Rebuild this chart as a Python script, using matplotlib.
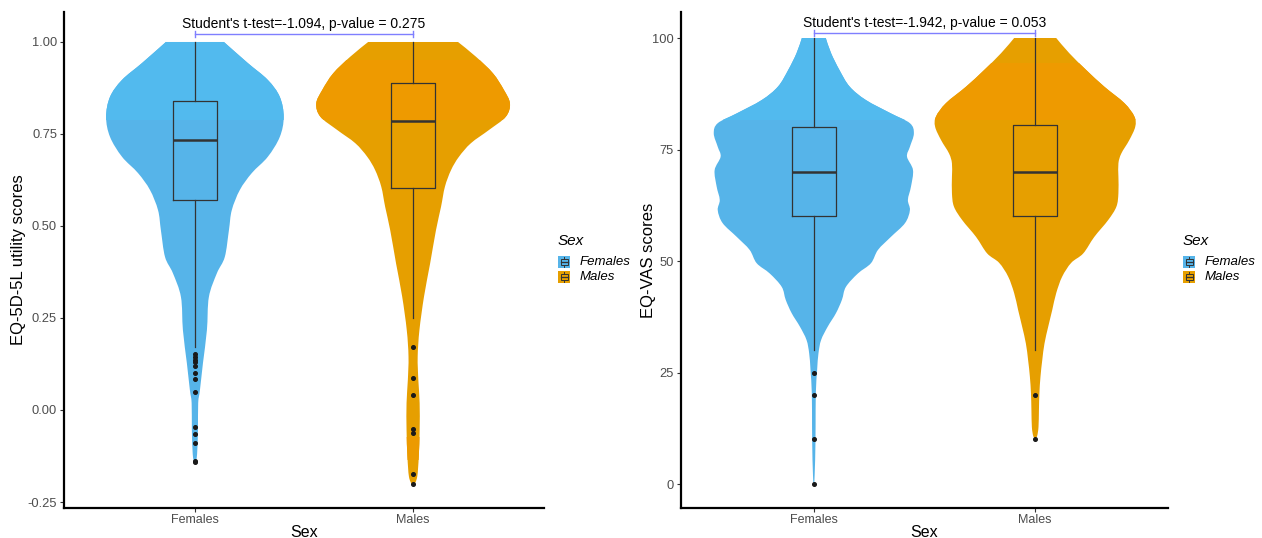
import matplotlib
matplotlib.use("Agg")
import matplotlib.pyplot as plt
from matplotlib.patches import Rectangle, PathPatch
from matplotlib.path import Path
from matplotlib.lines import Line2D
import numpy as np

plt.rcParams['font.family'] = ['Liberation Sans', 'DejaVu Sans']

# ---------------- data ----------------
groups = ["Females", "Males"]
colors = ["#56B4E9", "#E69F00"]
band_colors = ["#52BAEE", "#EE9A00"]

# Panel 1: EQ-5D-5L utility scores - violin outline (y value, half width in category units)
u_fem_y = [1.000, 0.943, 0.897, 0.851, 0.796, 0.742, 0.688, 0.644, 0.598, 0.543, 0.489,
           0.416, 0.372, 0.307, 0.217, 0.128, 0.054, 0.019, -0.054, -0.120, -0.144]
u_fem_w = [0.133, 0.242, 0.334, 0.389, 0.407, 0.389, 0.334, 0.261, 0.206, 0.169, 0.156,
           0.137, 0.101, 0.064, 0.055, 0.037, 0.023, 0.015, 0.014, 0.010, 0.003]
u_mal_y = [1.000, 0.960, 0.915, 0.870, 0.833, 0.797, 0.761, 0.725, 0.688, 0.652, 0.607,
           0.552, 0.489, 0.398, 0.308, 0.217, 0.145, 0.082, 0.019, -0.054, -0.127, -0.181, -0.204]
u_mal_w = [0.206, 0.288, 0.366, 0.416, 0.444, 0.425, 0.348, 0.265, 0.210, 0.174, 0.146,
           0.128, 0.105, 0.078, 0.050, 0.029, 0.021, 0.024, 0.030, 0.030, 0.026, 0.019, 0.005]
# boxplot stats: q1, median, q3, lower whisker, upper whisker
u_box = [dict(q1=0.570, med=0.734, q3=0.840, whislo=0.170, whishi=1.0),
         dict(q1=0.603, med=0.786, q3=0.889, whislo=0.251, whishi=1.0)]
u_out_fem = [0.152, 0.143, 0.136, 0.130, 0.120, 0.100, 0.083, 0.050, -0.045, -0.065, -0.089, -0.138, -0.142]
u_out_mal = [0.170, 0.087, 0.041, -0.051, -0.063, -0.175, -0.201]
u_ticks = [-0.25, 0.00, 0.25, 0.50, 0.75, 1.00]
u_test = "Student's t-test=-1.094, p-value = 0.275"

# Panel 2: EQ-VAS scores
v_fem_y = [100, 96.6, 92.8, 89.1, 86.1, 83.1, 80.9, 78.6, 75.6, 73.4, 70.4, 66.7, 63.7, 61.4,
           58.5, 55.4, 52.5, 49.5, 47.2, 44.2, 41.3, 38.3, 35.3, 32.3, 29.3, 25.6, 20.3, 12.8, 5.4, 0]
v_fem_w = [0.054, 0.078, 0.116, 0.162, 0.235, 0.348, 0.434, 0.452, 0.434, 0.421, 0.448, 0.439,
           0.425, 0.434, 0.412, 0.348, 0.290, 0.258, 0.199, 0.145, 0.127, 0.100, 0.063, 0.033,
           0.021, 0.015, 0.009, 0.008, 0.006, 0.002]
v_mal_y = [100, 96.6, 92.8, 89.1, 85.4, 82.4, 80.1, 77.1, 74.1, 71.9, 68.9, 65.2, 62.2, 59.2,
           55.4, 51.7, 49.6, 46.5, 42.8, 39.0, 35.3, 31.5, 27.8, 24.1, 20.3, 16.6, 12.8, 10.8, 10.2]
v_mal_w = [0.095, 0.154, 0.231, 0.312, 0.403, 0.448, 0.452, 0.425, 0.389, 0.376, 0.376, 0.376,
           0.367, 0.330, 0.267, 0.217, 0.163, 0.122, 0.095, 0.077, 0.059, 0.042, 0.032, 0.024,
           0.019, 0.017, 0.015, 0.009, 0.001]
v_box = [dict(q1=60, med=70, q3=80, whislo=30, whishi=100),
         dict(q1=60, med=70, q3=80.4, whislo=30, whishi=100)]
v_out_fem = [25, 20, 10, 0]
v_out_mal = [20, 10]
v_ticks = [0, 25, 50, 75, 100]
v_test = "Student's t-test=-1.942, p-value = 0.053"

W, H = 1262, 538
fig = plt.figure(figsize=(W / 100, H / 100), dpi=100)

def fx(px):
    return px / W

def fy(py):
    return 1 - py / H

TICK_GRAY = "#4D4D4D"


def smooth_side(pts):
    """Bezier (Catmull-Rom style) path pieces through the given outline vertices."""
    pts = np.asarray(pts, float)
    n = len(pts)
    verts, codes = [], []
    for i in range(n - 1):
        p0 = pts[i - 1] if i > 0 else pts[i]
        p1 = pts[i]
        p2 = pts[i + 1]
        p3 = pts[i + 2] if i + 2 < n else pts[i + 1]
        c1 = p1 + (p2 - p0) / 6.0
        c2 = p2 - (p3 - p1) / 6.0
        verts += [tuple(c1), tuple(c2), tuple(p2)]
        codes += [Path.CURVE4] * 3
    return verts, codes


def violin_path(center, yy, ww):
    right = [(center + w, y) for y, w in zip(yy, ww)]
    left = [(center - w, y) for y, w in zip(yy, ww)][::-1]
    verts = [right[0]]
    codes = [Path.MOVETO]
    v, c = smooth_side(right)
    verts += v; codes += c
    verts.append(left[0]); codes.append(Path.LINETO)
    v, c = smooth_side(left)
    verts += v; codes += c
    verts.append(right[0]); codes.append(Path.CLOSEPOLY)
    return Path(verts, codes)


def panel(ax, prof, boxes, outs, ticks, ticklabels, ylim, ylabel, ylabelpad, bands, test, brk_y, cap, txt_y):
    positions = [1, 2]
    for i, ((yy, ww), c) in enumerate(zip(prof, colors)):
        path = violin_path(positions[i], yy, ww)
        patch = PathPatch(path, facecolor=c, edgecolor='none', lw=0, zorder=1)
        ax.add_patch(patch)
        for (lo, hi, bc) in bands[i]:
            sp = ax.axhspan(lo, hi, color=bc, lw=0, zorder=1.5)
            sp.set_clip_path(patch)
    stats = []
    for b, o in zip(boxes, outs):
        d = dict(b)
        d['fliers'] = o
        stats.append(d)
    ax.bxp(stats, positions=positions, widths=0.2, showcaps=False, patch_artist=False,
           boxprops=dict(color="#333333", lw=0.9),
           whiskerprops=dict(color="#333333", lw=0.9),
           medianprops=dict(color="#333333", lw=1.8),
           flierprops=dict(marker='o', markersize=2.6, markerfacecolor="#1a1a1a",
                           markeredgecolor="#1a1a1a", linestyle='none'),
           zorder=3)
    ax.set_xlim(0.4, 2.6)
    ax.set_ylim(*ylim)
    ax.set_xticks(positions)
    ax.set_xticklabels(groups, fontsize=9, color=TICK_GRAY)
    ax.set_yticks(ticks)
    ax.set_yticklabels(ticklabels, fontsize=9.3, color=TICK_GRAY)
    ax.tick_params(length=3, width=0.8, color="#333333", pad=2)
    ax.tick_params(axis='x', pad=1.5)
    for s in ['top', 'right']:
        ax.spines[s].set_visible(False)
    for s in ['left', 'bottom']:
        ax.spines[s].set_linewidth(1.6)
        ax.spines[s].set_color("black")
    ax.set_xlabel("Sex", fontsize=11.5, labelpad=-1)
    ax.set_ylabel(ylabel, fontsize=12, labelpad=ylabelpad)
    # significance bracket
    bc = "#7F7FFF"
    ax.plot([1, 2], [brk_y, brk_y], color=bc, lw=1.0, zorder=4, clip_on=False)
    for p in positions:
        ax.plot([p, p], [brk_y - cap, brk_y + cap], color=bc, lw=1.0, zorder=4, clip_on=False)
    ax.text(1.5, txt_y, test, ha='center', va='bottom', fontsize=10, color="black")


def legend(x0):
    fig.text(fx(x0), fy(241), "Sex", fontsize=11, style='italic', va='center', ha='left', color="black")
    for j, (g, c) in enumerate(zip(groups, colors)):
        ky = 256 + j * 14.5
        fig.add_artist(Rectangle((fx(x0), fy(ky + 12)), 12 / W, 12 / H, transform=fig.transFigure,
                                 facecolor=c, edgecolor='none'))
        fig.add_artist(Rectangle((fx(x0 + 2.5), fy(ky + 9)), 7 / W, 6 / H, transform=fig.transFigure,
                                 facecolor='none', edgecolor="#333333", lw=0.7))
        fig.add_artist(Line2D([fx(x0 + 2.5), fx(x0 + 9.5)], [fy(ky + 6), fy(ky + 6)],
                              transform=fig.transFigure, color="#333333", lw=0.9))
        fig.add_artist(Line2D([fx(x0 + 6), fx(x0 + 6)], [fy(ky + 1), fy(ky + 3)],
                              transform=fig.transFigure, color="#333333", lw=0.7))
        fig.add_artist(Line2D([fx(x0 + 6), fx(x0 + 6)], [fy(ky + 9), fy(ky + 11)],
                              transform=fig.transFigure, color="#333333", lw=0.7))
        fig.text(fx(x0 + 22), fy(ky + 6), g, fontsize=9.5, style='italic', va='center', ha='left',
                 color="black")


ax1 = fig.add_axes([fx(64), fy(508), fx(544) - fx(64), fy(12) - fy(508)])
panel(ax1, [(u_fem_y, u_fem_w), (u_mal_y, u_mal_w)], u_box, [u_out_fem, u_out_mal],
      u_ticks, ["-0.25", "0.00", "0.25", "0.50", "0.75", "1.00"], (-0.2663, 1.0815),
      "EQ-5D-5L utility scores", 1,
      [[(0.788, 1.01, band_colors[0])],
       [(0.788, 0.951, band_colors[1]), (-0.136, -0.073, "#EC9A00")]],
      u_test, 1.022, 0.008, 1.030)
legend(558)

ax2 = fig.add_axes([fx(681), fy(508), fx(1168) - fx(681), fy(12) - fy(508)])
panel(ax2, [(v_fem_y, v_fem_w), (v_mal_y, v_mal_w)], v_box, [v_out_fem, v_out_mal],
      v_ticks, ["0", "25", "50", "75", "100"], (-5.38, 105.83),
      "EQ-VAS scores", -3,
      [[(81.6, 101, band_colors[0])],
       [(81.6, 94.4, band_colors[1])]],
      v_test, 101.1, 0.67, 101.9)
legend(1183)

fig.savefig("out.png", dpi=100, facecolor="white")
